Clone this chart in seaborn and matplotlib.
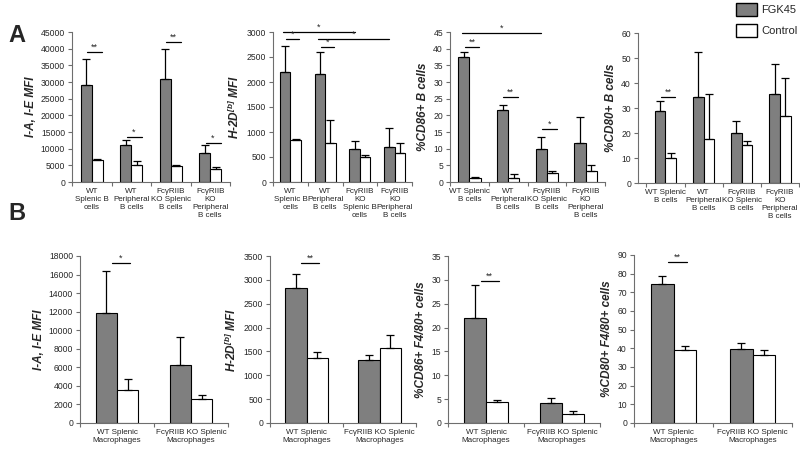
import numpy as np
import pandas as pd
import seaborn as sns
import matplotlib.pyplot as plt
from matplotlib.patches import Patch

# ---- datos ----
grupos_a1 = ["WT\nSplenic B\ncells", "WT\nPeripheral\nB cells", "FcγRIIB\nKO Splenic\nB cells", "FcγRIIB\nKO\nPeripheral\nB cells"]
grupos_a2 = ["WT\nSplenic B\ncells", "WT\nPeripheral\nB cells", "FcγRIIB\nKO\nSplenic B\ncells", "FcγRIIB\nKO\nPeripheral\nB cells"]
grupos_a3 = ["WT Splenic\nB cells", "WT\nPeripheral\nB cells", "FcγRIIB\nKO Splenic\nB cells", "FcγRIIB\nKO\nPeripheral\nB cells"]
grupos_b = ["WT Splenic\nMacrophages", "FcγRIIB KO Splenic\nMacrophages"]

iae_b_fgk = [29000, 11200, 31000, 8800]
iae_b_fgk_err = [8000, 1300, 9000, 2300]
iae_b_ctl = [6500, 5000, 4800, 3800]
iae_b_ctl_err = [300, 1400, 300, 700]

h2d_b_fgk = [2200, 2160, 670, 710]
h2d_b_fgk_err = [520, 450, 150, 370]
h2d_b_ctl = [840, 790, 500, 590]
h2d_b_ctl_err = [30, 450, 40, 190]

cd86_b_fgk = [37.5, 21.5, 10.0, 11.6]
cd86_b_fgk_err = [1.5, 1.5, 3.5, 7.9]
cd86_b_ctl = [1.3, 1.2, 2.6, 3.4]
cd86_b_ctl_err = [0.2, 1.3, 0.6, 1.7]

cd80_b_fgk = [29.0, 34.5, 20.2, 35.7]
cd80_b_fgk_err = [3.8, 17.8, 4.5, 12.1]
cd80_b_ctl = [10.0, 17.8, 15.3, 26.8]
cd80_b_ctl_err = [2.0, 17.9, 1.5, 15.1]

iae_m_fgk = [11900, 6300]
iae_m_fgk_err = [4500, 3000]
iae_m_ctl = [3600, 2600]
iae_m_ctl_err = [1100, 450]

h2d_m_fgk = [2830, 1320]
h2d_m_fgk_err = [300, 100]
h2d_m_ctl = [1360, 1580]
h2d_m_ctl_err = [120, 270]

cd86_m_fgk = [22.1, 4.1]
cd86_m_fgk_err = [6.8, 1.2]
cd86_m_ctl = [4.3, 1.9]
cd86_m_ctl_err = [0.6, 0.7]

cd80_m_fgk = [74.5, 39.4]
cd80_m_fgk_err = [4.5, 3.6]
cd80_m_ctl = [39.2, 36.3]
cd80_m_ctl_err = [1.8, 3.0]

# significancia: (grupo inicio, grupo fin, nivel y, etiqueta)
sig_a1 = [(0, 0, 39000, "**"), (1, 1, 13500, "*"), (2, 2, 42000, "**"), (3, 3, 11700, "*")]
sig_a2 = [(0, 0, 2860, "*"), (1, 1, 2700, "*"), (0, 2, 3000, "*"), (1, 3, 2860, "*")]
sig_a3 = [(0, 0, 40.5, "**"), (1, 1, 25.5, "**"), (2, 2, 15.9, "*"), (0, 2, 44.7, "*")]
sig_a4 = [(0, 0, 34.4, "**")]
sig_b1 = [(0, 0, 17270, "*")]
sig_b2 = [(0, 0, 3360, "**")]
sig_b3 = [(0, 0, 29.8, "**")]
sig_b4 = [(0, 0, 86.4, "**")]

GRIS = "#7f7f7f"
EJE = "#6e6e6e"

sns.set_theme(style="ticks")
plt.rcParams['font.family'] = ['Liberation Sans', 'DejaVu Sans']
plt.rcParams['mathtext.fontset'] = 'custom'
plt.rcParams['mathtext.bf'] = 'Liberation Sans:bold:italic'
plt.rcParams['mathtext.it'] = 'Liberation Sans:bold:italic'
plt.rcParams['mathtext.rm'] = 'Liberation Sans:bold:italic'


def rect(izq, der, y0, ytop):
    return [izq / 800, 1 - y0 / 450, (der - izq) / 800, (y0 - ytop) / 450]


def panel(ax, grupos, fgk, fgk_err, ctl, ctl_err, ylabel, yticks, xlim, sigs, corto, ancho):
    n = len(grupos)
    df = pd.DataFrame({
        "grupo": grupos * 2,
        "trat": ["FGK45"] * n + ["Control"] * n,
        "valor": fgk + ctl,
    })
    sns.barplot(data=df, x="grupo", y="valor", hue="trat", order=grupos,
                hue_order=["FGK45", "Control"],
                palette={"FGK45": GRIS, "Control": "white"},
                edgecolor="black", linewidth=0.8, width=ancho,
                errorbar=None, legend=False, ax=ax)
    # barras de error solo hacia arriba
    for cont, errs in zip(ax.containers, [fgk_err, ctl_err]):
        for bar, e in zip(cont, errs):
            x = bar.get_x() + bar.get_width() / 2
            ax.errorbar(x, bar.get_height(), yerr=[[0], [e]], fmt="none",
                        ecolor="black", elinewidth=0.9, capsize=3, capthick=0.9)
    # lineas de significancia
    for i, j, y, txt in sigs:
        if i == j:
            x0, x1 = i + corto[0], i + corto[1]
        else:
            x0, x1 = i - 0.2, j - 0.15
        ax.plot([x0, x1], [y, y], color="black", lw=0.9, clip_on=False)
        ax.text((x0 + x1) / 2, y, txt, ha="center", va="bottom", fontsize=6.5)

    ax.set_xlim(xlim)
    ax.set_ylim(0, yticks[-1])
    ax.set_yticks(yticks)
    ax.set_xlabel("")
    ax.set_ylabel(ylabel, fontweight="bold", fontstyle="italic", fontsize=8.5, labelpad=3)
    ax.set_xticks(np.arange(n + 1) - 0.5, minor=True)
    ax.tick_params(axis="x", which="major", length=0, labelsize=5.8, pad=4)
    ax.tick_params(axis="x", which="minor", length=3, color=EJE, width=0.8)
    ax.tick_params(axis="y", length=3, labelsize=6.2, color=EJE, width=0.8, pad=2)
    sns.despine(ax=ax)
    for s in ["left", "bottom"]:
        ax.spines[s].set_color(EJE)
        ax.spines[s].set_linewidth(0.8)


fig = plt.figure(figsize=(8, 4.5), dpi=100)

corto_a = (-0.12, 0.26)
corto_b = (-0.07, 0.17)

ax = fig.add_axes(rect(72, 230, 182, 32))
panel(ax, grupos_a1, iae_b_fgk, iae_b_fgk_err, iae_b_ctl, iae_b_ctl_err,
      "I-A, I-E MFI", np.arange(0, 45001, 5000), (-0.5, 3.5), sig_a1, corto_a, 0.56)

ax = fig.add_axes(rect(273, 412, 182, 32))
panel(ax, grupos_a2, h2d_b_fgk, h2d_b_fgk_err, h2d_b_ctl, h2d_b_ctl_err,
      r"H-2D$^{\mathbf{[b]}}$ MFI", np.arange(0, 3001, 500), (-0.3, 3.5), sig_a2, corto_a, 0.6)

ax = fig.add_axes(rect(450, 605, 182, 32))
panel(ax, grupos_a3, cd86_b_fgk, cd86_b_fgk_err, cd86_b_ctl, cd86_b_ctl_err,
      "%CD86+ B cells", np.arange(0, 46, 5), (-0.5, 3.5), sig_a3, corto_a, 0.58)

ax = fig.add_axes(rect(638, 799, 183, 33))
panel(ax, grupos_a3, cd80_b_fgk, cd80_b_fgk_err, cd80_b_ctl, cd80_b_ctl_err,
      "%CD80+ B cells", np.arange(0, 61, 10), (-0.72, 3.28), sig_a4, corto_a, 0.56)

ax = fig.add_axes(rect(80, 228, 423, 256))
panel(ax, grupos_b, iae_m_fgk, iae_m_fgk_err, iae_m_ctl, iae_m_ctl_err,
      "I-A, I-E MFI", np.arange(0, 18001, 2000), (-0.5, 1.5), sig_b1, corto_b, 0.58)

ax = fig.add_axes(rect(270, 416, 423, 256))
panel(ax, grupos_b, h2d_m_fgk, h2d_m_fgk_err, h2d_m_ctl, h2d_m_ctl_err,
      r"H-2D$^{\mathbf{[b]}}$ MFI", np.arange(0, 3501, 500), (-0.5, 1.5), sig_b2, corto_b, 0.58)

ax = fig.add_axes(rect(448, 600, 423, 256))
panel(ax, grupos_b, cd86_m_fgk, cd86_m_fgk_err, cd86_m_ctl, cd86_m_ctl_err,
      "%CD86+ F4/80+ cells", np.arange(0, 36, 5), (-0.5, 1.5), sig_b3, corto_b, 0.58)

ax = fig.add_axes(rect(634, 792, 423, 255))
panel(ax, grupos_b, cd80_m_fgk, cd80_m_fgk_err, cd80_m_ctl, cd80_m_ctl_err,
      "%CD80+ F4/80+ cells", np.arange(0, 91, 10), (-0.5, 1.5), sig_b4, corto_b, 0.58)

fig.text(17 / 800, 1 - 35 / 450, "A", fontsize=17, fontweight="bold", ha="center", va="center")
fig.text(17 / 800, 1 - 214 / 450, "B", fontsize=17, fontweight="bold", ha="center", va="center")

fig.legend(handles=[Patch(facecolor=GRIS, edgecolor="black", label="FGK45"),
                    Patch(facecolor="white", edgecolor="black", label="Control")],
           loc="upper left", bbox_to_anchor=(736 / 800, 1 - 3 / 450), frameon=False,
           fontsize=8, handlelength=1.9, handleheight=1.4, labelspacing=0.75,
           handletextpad=0.4, borderaxespad=0, borderpad=0)

fig.savefig("out.png", dpi=100)
